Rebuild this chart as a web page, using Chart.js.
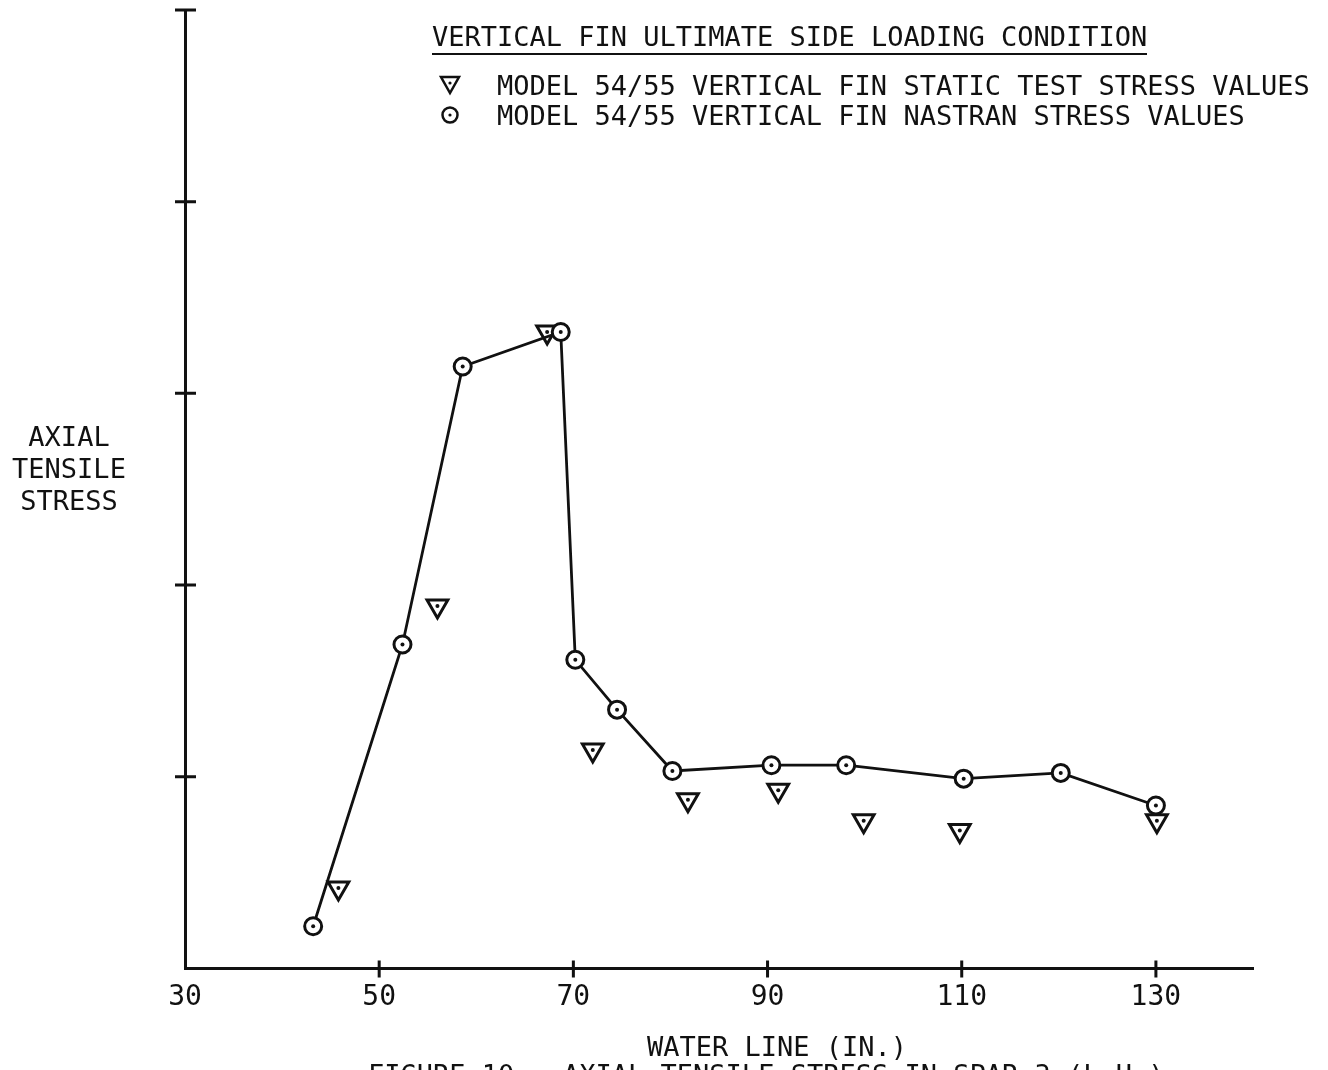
<!DOCTYPE html>
<html lang="en">
<head>
    <meta charset="UTF-8">
    <title>Axial Tensile Stress in Spar 3</title>
    <script src="https://cdn.jsdelivr.net/npm/chart.js"></script>
    <style>
        body {
            margin: 0;
            background: #fff;
        }
        #wrap {
            position: relative;
            width: 1328px;
            height: 1070px;
            overflow: hidden;
            font-family: 'DejaVu Sans Mono', monospace;
            font-size: 27px;
            line-height: 27px;
            color: #111;
        }
        #chart {
            position: absolute;
            left: 0;
            top: 0;
        }
        .txt {
            position: absolute;
            white-space: pre;
        }
        #legend-title {
            left: 432px;
            top: 23px;
            padding-bottom: 3px;
            border-bottom: 2.5px solid #111;
        }
        .item svg {
            position: absolute;
            left: -59px;
            top: 2px;
        }
        #ytitle {
            left: -4px;
            top: 421px;
            width: 146px;
            text-align: center;
            line-height: 32px;
        }
    </style>
</head>
<body>
    <div id="wrap">
        <canvas id="chart" width="1328" height="1070"></canvas>
        <div class="txt" id="legend-title">VERTICAL FIN ULTIMATE SIDE LOADING CONDITION</div>
        <div class="txt item" style="left: 497px; top: 72px;">MODEL 54/55 VERTICAL FIN STATIC TEST STRESS VALUES<svg width="24" height="22"><polygon points="3,3 21,3 12,19" fill="#fff" stroke="#111" stroke-width="2.5"/><circle cx="12" cy="9" r="1.6" fill="#111"/></svg></div>
        <div class="txt item" style="left: 497px; top: 102px;">MODEL 54/55 VERTICAL FIN NASTRAN STRESS VALUES<svg width="24" height="22"><circle cx="12" cy="11" r="7.5" fill="#fff" stroke="#111" stroke-width="2.5"/><circle cx="12" cy="11" r="1.6" fill="#111"/></svg></div>
        <div class="txt" id="ytitle">AXIAL
TENSILE
STRESS</div>
        <div class="txt" style="left: 647px; top: 1033px;">WATER LINE (IN.)</div>
        <div class="txt" style="left: 368px; top: 1061px;">FIGURE 10 - AXIAL TENSILE STRESS IN SPAR 3 (L.H.)</div>
    </div>

    <script>
        // water line (in.) and stress (stress in tick units)
        let nastranX = [43.2, 52.4, 58.6, 68.7, 70.2, 74.5, 80.2, 90.4, 98.1, 110.2, 120.2, 130.0];
        let nastranY = [0.22, 1.69, 3.14, 3.32, 1.61, 1.35, 1.03, 1.06, 1.06, 0.99, 1.02, 0.85];
        let staticX = [45.8, 56.0, 67.3, 72.0, 81.8, 91.1, 99.9, 109.8, 130.1];
        let staticY = [0.42, 1.89, 3.32, 1.14, 0.88, 0.93, 0.77, 0.72, 0.77];
        let xTicks = [30, 50, 70, 90, 110, 130];
        let yTicks = [1, 2, 3, 4, 5];

        function toPoints(xs, ys) {
            return xs.map((x, i) => ({ x: x, y: ys[i] }));
        }

        // cross-shaped tick marks on both axes and the dot inside every marker
        const marksPlugin = {
            id: 'marks',
            afterDatasetsDraw(chart) {
                const ctx = chart.ctx;
                ctx.save();
                ctx.fillStyle = '#111';
                chart.data.datasets.forEach((ds, i) => {
                    chart.getDatasetMeta(i).data.forEach(el => {
                        ctx.beginPath();
                        ctx.arc(el.x, el.y, 2, 0, Math.PI * 2);
                        ctx.fill();
                    });
                });
                ctx.restore();
            },
            afterDraw(chart) {
                const ctx = chart.ctx;
                const xs = chart.scales.x, ys = chart.scales.y;
                const left = chart.chartArea.left, bottom = chart.chartArea.bottom;
                ctx.save();
                ctx.strokeStyle = '#111';
                ctx.lineWidth = 3;
                ctx.beginPath();
                xTicks.forEach(v => {
                    if (v === xs.min) return;
                    const px = xs.getPixelForValue(v);
                    ctx.moveTo(px, bottom - 8);
                    ctx.lineTo(px, bottom + 9);
                });
                yTicks.forEach(v => {
                    const py = ys.getPixelForValue(v);
                    ctx.moveTo(left - 10, py);
                    ctx.lineTo(left + 11, py);
                });
                ctx.stroke();
                ctx.restore();
            }
        };

        new Chart(document.getElementById('chart'), {
            type: 'scatter',
            data: {
                datasets: [{
                    label: 'MODEL 54/55 VERTICAL FIN NASTRAN STRESS VALUES',
                    data: toPoints(nastranX, nastranY),
                    showLine: true,
                    borderColor: '#111',
                    borderWidth: 2.8,
                    pointStyle: 'circle',
                    pointRadius: 8.5,
                    pointBorderWidth: 3,
                    pointBorderColor: '#111',
                    pointBackgroundColor: '#fff'
                }, {
                    label: 'MODEL 54/55 VERTICAL FIN STATIC TEST STRESS VALUES',
                    data: toPoints(staticX, staticY),
                    showLine: false,
                    pointStyle: 'triangle',
                    rotation: 180,
                    pointRadius: 12,
                    pointBorderWidth: 3,
                    pointBorderColor: '#111',
                    pointBackgroundColor: '#fff'
                }]
            },
            options: {
                responsive: false,
                animation: false,
                layout: {
                    autoPadding: false,
                    padding: { left: 185, right: 75, top: 10, bottom: 42 }
                },
                plugins: {
                    legend: { display: false },
                    tooltip: { enabled: false }
                },
                scales: {
                    x: {
                        type: 'linear',
                        min: 30,
                        max: 140,
                        afterBuildTicks: s => { s.ticks = xTicks.map(v => ({ value: v })); },
                        grid: { display: false, drawTicks: false },
                        border: { color: '#111', width: 3 },
                        ticks: {
                            autoSkip: false,
                            maxRotation: 0,
                            padding: 13,
                            color: '#111',
                            font: { family: 'DejaVu Sans Mono', size: 28 }
                        }
                    },
                    y: {
                        min: 0,
                        max: 5,
                        afterBuildTicks: s => { s.ticks = yTicks.map(v => ({ value: v })); },
                        grid: { display: false, drawTicks: false },
                        border: { color: '#111', width: 3 },
                        ticks: { display: false }
                    }
                }
            },
            plugins: [marksPlugin]
        });
    </script>
</body>
</html>
